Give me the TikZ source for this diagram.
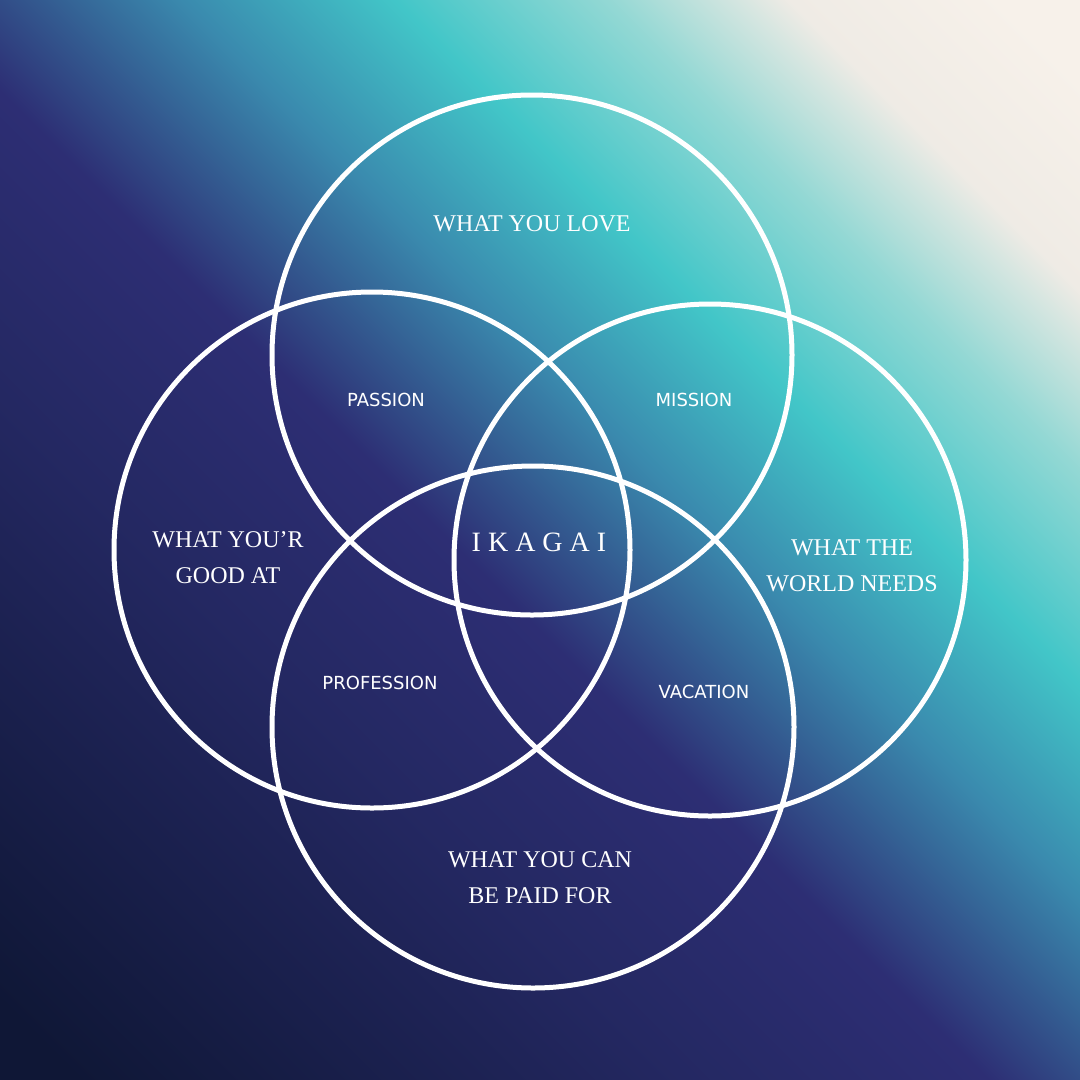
\documentclass[tikz,border=0pt]{standalone}
\usepackage{fontspec}
\setmainfont{Liberation Serif}
\newfontfamily\labelsans{DejaVu Sans}
\usetikzlibrary{shadings}

\definecolor{NightBlue}{HTML}{0F1736}
\definecolor{DeepIndigo}{HTML}{242862}
\definecolor{Indigo}{HTML}{2D2E74}
\definecolor{SeaBlue}{HTML}{3A8AAE}
\definecolor{Teal}{HTML}{42C6C8}
\definecolor{PaleTeal}{HTML}{93D8D4}
\definecolor{Cream}{HTML}{EFEBE5}
\definecolor{Shell}{HTML}{F7F1EA}

\pgfdeclarehorizontalshading{ikagaisky}{100bp}{color(0bp)=(NightBlue); color(17bp)=(NightBlue);
  color(37bp)=(DeepIndigo); color(47bp)=(Indigo); color(56bp)=(SeaBlue); color(63bp)=(Teal);
  color(70bp)=(PaleTeal); color(76bp)=(Cream); color(83bp)=(Shell); color(100bp)=(Shell)}

\tikzset{
  ring/.style={draw=white, line width=5pt, circle, minimum size=#1, inner sep=0pt},
  big/.style={text=white, align=center, font=\fontsize{24}{36}\selectfont},
  small/.style={text=white, font=\labelsans\fontsize{18}{20}\selectfont}
}

\begin{document}
\begin{tikzpicture}[x=1pt, y=-1pt]
  \useasboundingbox (0,0) rectangle (1080,1080);
  \shade[shading=ikagaisky, shading angle=45] (0,0) rectangle (1080,1080);

  \node[ring=520pt] (love) at (532,355) {};
  \node[ring=516pt] (good) at (372,550) {};
  \node[ring=512pt] (world) at (710,560) {};
  \node[ring=522pt] (paid) at (533,727) {};

  \node[big] (lovetext) at (532,224) {WHAT YOU LOVE};
  \node[big] (goodtext) at (228,558) {WHAT YOU'R\\GOOD AT};
  \node[big] (worldtext) at (852,566) {WHAT THE\\WORLD NEEDS};
  \node[big] (paidtext) at (540,878) {WHAT YOU CAN\\BE PAID FOR};

  \node[small] (passion) at (386,400) {PASSION};
  \node[small] (mission) at (694,400) {MISSION};
  \node[small] (profession) at (380,683) {PROFESSION};
  \node[small] (vacation) at (704,692) {VACATION};

  \node[text=white, font=\fontsize{28}{30}\selectfont\addfontfeatures{LetterSpace=25}] (ikagai) at (539,542) {IKAGAI};
\end{tikzpicture}
\end{document}
